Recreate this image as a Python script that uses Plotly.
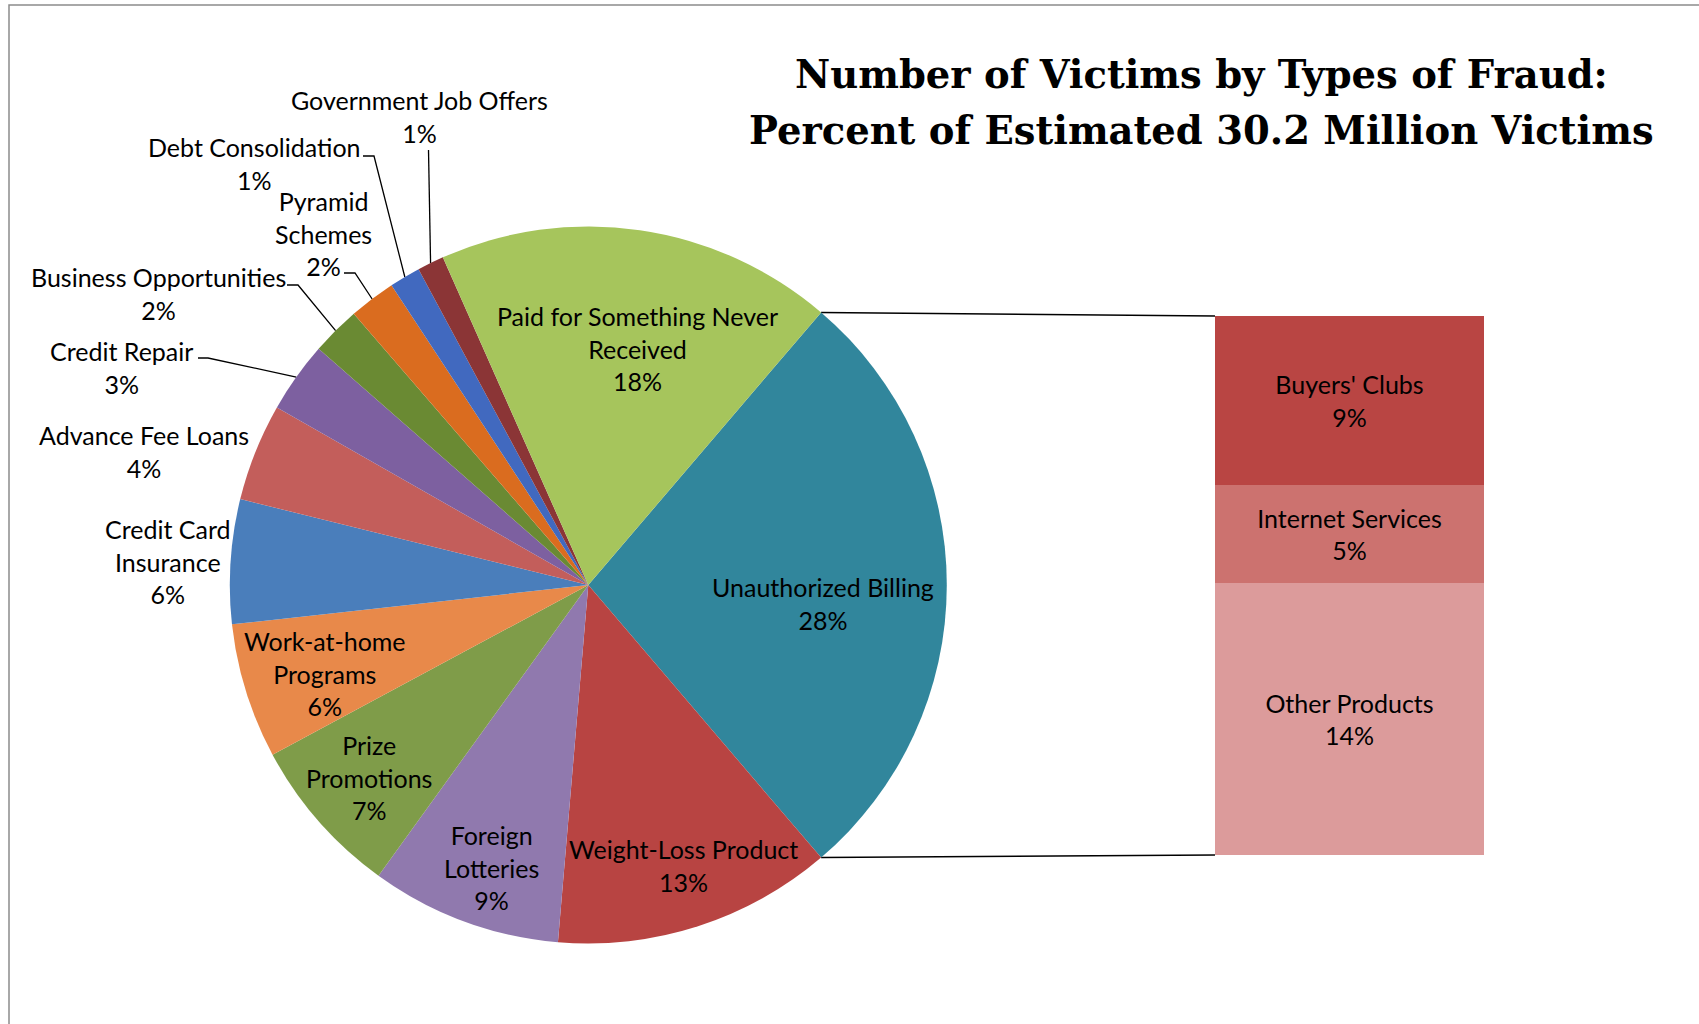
import math
import plotly.graph_objects as go

W, H = 1699, 1024

# ---------------- data ----------------
categories = ["Unauthorized Billing", "Weight-Loss Product", "Foreign Lotteries",
              "Prize Promotions", "Work-at-home Programs", "Credit Card Insurance",
              "Advance Fee Loans", "Credit Repair", "Business Opportunities",
              "Pyramid Schemes", "Debt Consolidation", "Government Job Offers",
              "Paid for Something Never Received"]
other_values = [12.6, 8.6, 7.2, 6.1, 5.6, 4.4, 3.2, 2.2, 2.1, 1.4, 1.2, 17.9]

sub_categories = ["Other Products", "Internet Services", "Buyers' Clubs"]   # bottom -> top
sub_values = [13.9, 5.0, 8.6]

pie_values = [sum(sub_values)] + other_values
total = sum(pie_values)

title_lines = ["Number of Victims by Types of Fraud:",
               "Percent of Estimated 30.2 Million Victims"]

# ---------------- styling ----------------
pie_colors = ["#31869C", "#B84442", "#9079AE", "#7F9C49", "#E8894A", "#4A7EBB",
              "#C35E5B", "#7D60A0", "#6A8A33", "#DA6C1F", "#4169BF", "#8B3536", "#A6C55C"]
bar_colors = ["#DC9B9B", "#CC726F", "#B94543"]

label_names = ["Unauthorized Billing", "Weight-Loss Product", "Foreign<br>Lotteries",
               "Prize<br>Promotions", "Work-at-home<br>Programs", "Credit Card<br>Insurance",
               "Advance Fee Loans", "Credit Repair", "Business Opportunities",
               "Pyramid<br>Schemes", "Debt Consolidation", "Government Job Offers",
               "Paid for Something Never<br>Received"]
# label block centres (pixels)
label_pos = [(823, 603), (683, 865), (491, 867), (369, 777), (325, 673), (168, 561),
             (144, 451), (121, 367), (158, 293), (323, 233), (254, 163), (419, 116.5),
             (637, 348)]
# leader line starting points (label side), the slice edge end is computed
leaders = {7: [(198, 358), (208, 358)],
           8: [(287, 285), (298, 285)],
           9: [(344, 273), (355, 273)],
           10: [(363, 156), (374, 156)],
           11: [(428.5, 150)]}
title_y = [74, 130]

label_font = dict(family="Lato, Carlito, Calibri, sans-serif", size=25, color="black")
title_font = dict(family="DejaVu Serif, Liberation Serif, serif", size=38.5, color="black")

# pie geometry (pixels)
cx, cy, R = 588.3, 585.0, 358.5
pie_dom_x = [(cx - R) / W, (cx + R) / W]
pie_dom_y = [1 - (cy + R) / H, 1 - (cy - R) / H]

# bar geometry (paper)
bar_dom_x = [1215 / W, 1484 / W]
bar_dom_y = [1 - 855 / H, 1 - 316 / H]

rotation = 90 - pie_values[0] / total * 360 / 2


def pct(v):
    return f"{int(v / total * 100 + 0.5)}%"


def edge(angle_deg, r=R):
    a = math.radians(angle_deg)
    return (cx + r * math.sin(a), cy - r * math.cos(a))


fig = go.Figure()

# connector lines pie -> bar
start_a = rotation
end_a = rotation + pie_values[0] / total * 360
bx_px = bar_dom_x[0] * W
by_top = (1 - bar_dom_y[1]) * H
by_bot = (1 - bar_dom_y[0]) * H
for a, yb in [(start_a, by_top), (end_a, by_bot)]:
    p = edge(a)
    fig.add_trace(go.Scatter(x=[p[0], bx_px], y=[p[1], yb], mode="lines",
                             line=dict(color="black", width=1.5),
                             xaxis="x", yaxis="y", hoverinfo="skip", showlegend=False))

# leader lines
cum = 0
mids = []
for v in pie_values:
    mids.append(rotation + (cum + v / 2) / total * 360)
    cum += v
for i, pts in leaders.items():
    e = edge(mids[i])
    xs = [p[0] for p in pts] + [e[0]]
    ys = [p[1] for p in pts] + [e[1]]
    fig.add_trace(go.Scatter(x=xs, y=ys, mode="lines",
                             line=dict(color="black", width=1.3),
                             xaxis="x", yaxis="y", hoverinfo="skip", showlegend=False))

# pie
fig.add_trace(go.Pie(values=pie_values, labels=categories, sort=False,
                     direction="clockwise", rotation=rotation,
                     marker=dict(colors=pie_colors, line=dict(width=0)),
                     textinfo="none", domain=dict(x=pie_dom_x, y=pie_dom_y),
                     showlegend=False, hoverinfo="label+percent"))

# stacked bar
for name, v, col in zip(sub_categories, sub_values, bar_colors):
    fig.add_trace(go.Bar(x=[0], y=[v], width=1, name=name,
                         marker=dict(color=col, line=dict(width=0)),
                         text=[f"{name}<br>{pct(v)}"], textposition="inside",
                         insidetextanchor="middle", textangle=0,
                         insidetextfont=label_font, constraintext="none",
                         xaxis="x2", yaxis="y2", showlegend=False, hoverinfo="skip"))

annotations = []
for name, v, (lx, ly) in zip(label_names, pie_values, label_pos):
    annotations.append(dict(x=lx, y=ly, xref="x", yref="y", text=f"{name}<br>{pct(v)}",
                            showarrow=False, font=label_font, align="center",
                            xanchor="center", yanchor="middle"))
for line, ty in zip(title_lines, title_y):
    annotations.append(dict(x=1201, y=ty, xref="x", yref="y",
                            text=f"<b>{line}</b>", showarrow=False, font=title_font,
                            xanchor="center", yanchor="middle", align="center"))

fig.update_layout(
    width=W, height=H,
    margin=dict(l=0, r=0, t=0, b=0),
    paper_bgcolor="white", plot_bgcolor="rgba(0,0,0,0)",
    barmode="stack", bargap=0,
    xaxis=dict(domain=[0, 1], range=[0, W], visible=False, fixedrange=True),
    yaxis=dict(domain=[0, 1], range=[H, 0], visible=False, fixedrange=True),
    xaxis2=dict(domain=bar_dom_x, range=[-0.5, 0.5], visible=False, anchor="y2"),
    yaxis2=dict(domain=bar_dom_y, range=[0, sum(sub_values)], visible=False, anchor="x2"),
    annotations=annotations,
    shapes=[dict(type="rect", xref="x", yref="y", x0=9, y0=5, x1=W + 20, y1=H + 20,
                 line=dict(color="#8C8C8C", width=1.5), fillcolor="rgba(0,0,0,0)")],
)

fig.write_html("out.html", config={"displayModeBar": False},
               post_script="document.body.style.margin='0';document.body.style.padding='0';")
